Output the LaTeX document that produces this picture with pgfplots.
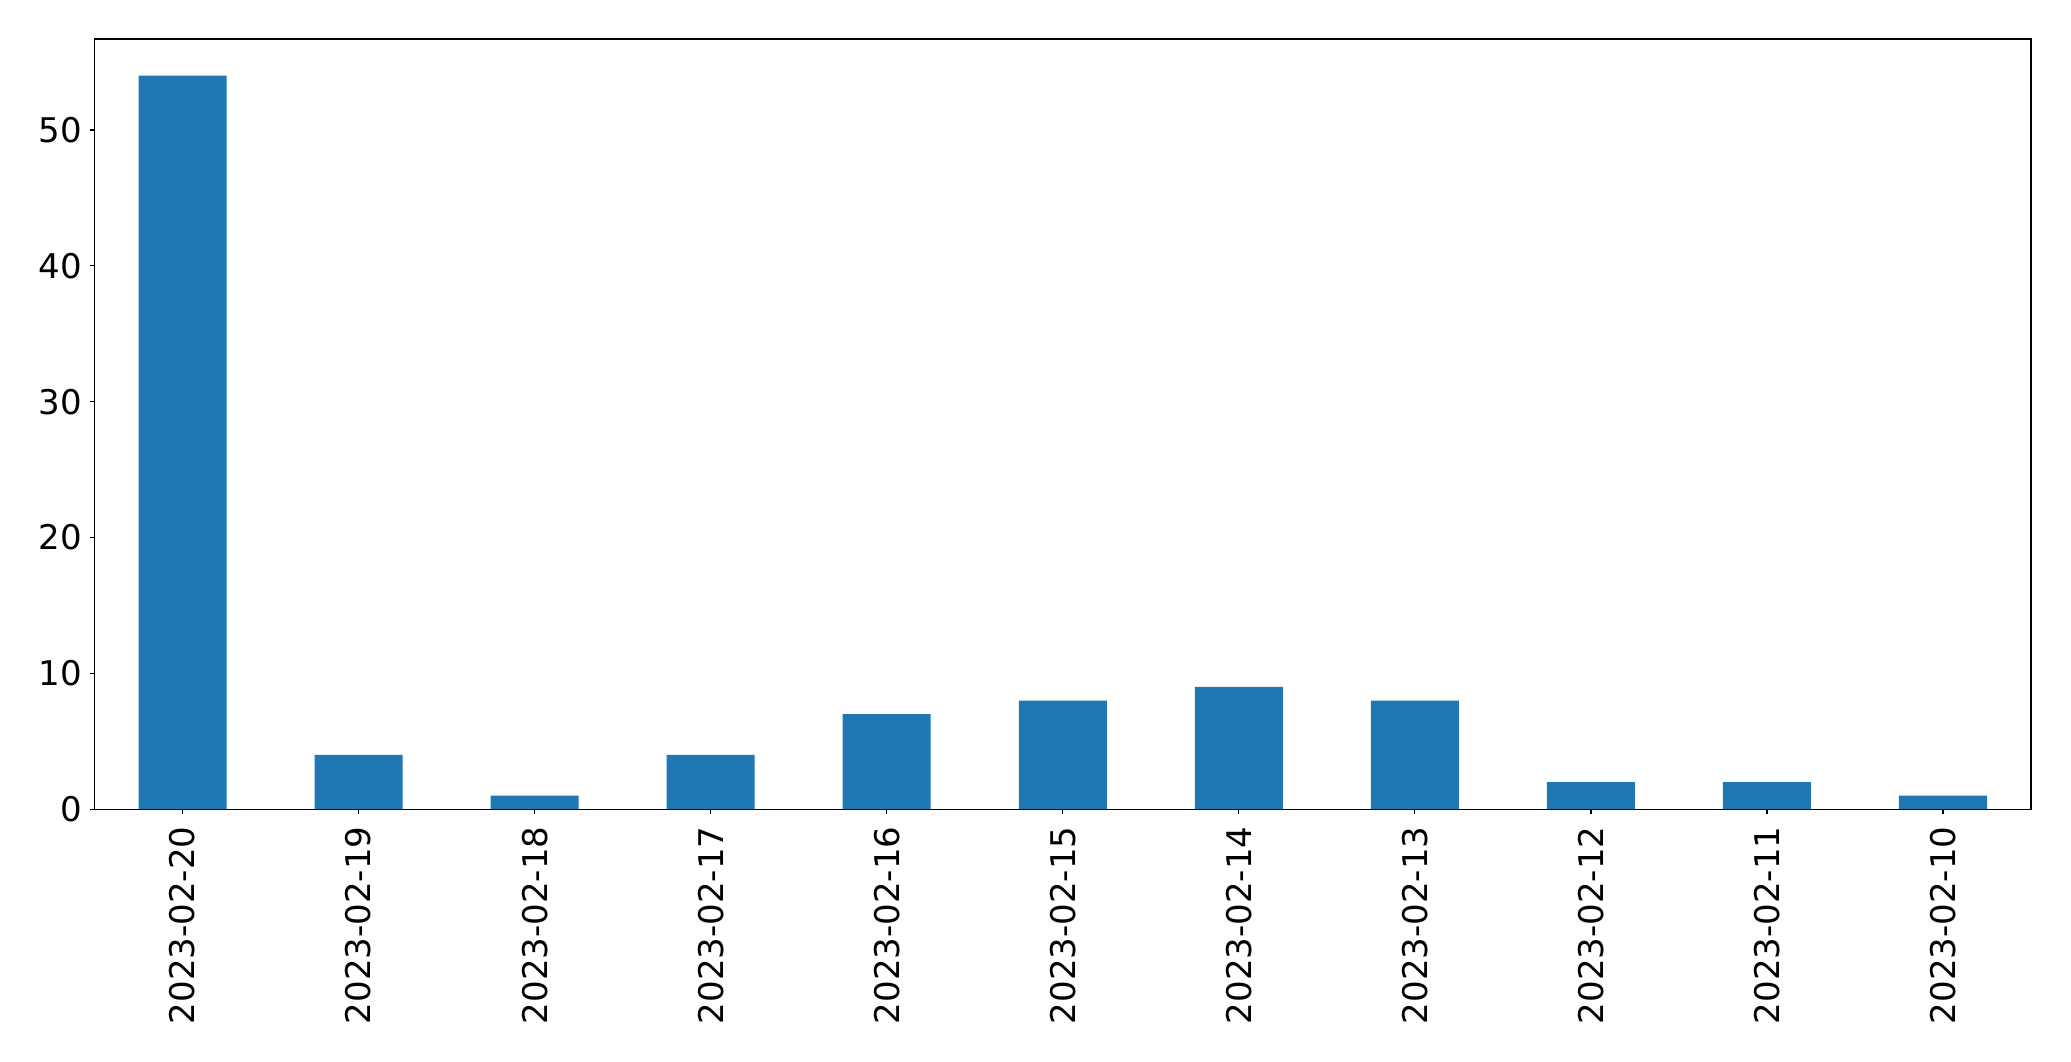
\documentclass[border=0pt]{standalone}
\usepackage{fontspec}
\setmainfont{DejaVu Sans}
\usepackage{pgfplots}
\pgfplotsset{compat=1.18}
\definecolor{mplblue}{HTML}{1F77B4}
\begin{document}
\begin{tikzpicture}
\begin{axis}[
  name=ax,
  scale only axis,
  width=968pt, height=385pt,
  xmin=-0.5, xmax=10.5,
  ymin=0, ymax=56.7,
  axis line style={line width=0.6pt},
  xtick={0,1,2,3,4,5,6,7,8,9,10},
  xticklabels={2023-02-20,2023-02-19,2023-02-18,2023-02-17,2023-02-16,2023-02-15,2023-02-14,2023-02-13,2023-02-12,2023-02-11,2023-02-10},
  ytick={0,10,20,30,40,50},
  tick align=outside,
  tick pos=left,
  major tick length=2.5pt,
  tick style={line width=0.6pt, black},
  /pgf/number format/assume math mode=true,
  tick label style={font=\fontsize{17}{20}\selectfont},
  xticklabel style={rotate=90, anchor=east, inner sep=0pt},
  yticklabel style={inner sep=0pt, xshift=-3.5pt},
  xticklabel shift=6pt,
]
\addplot[ybar, bar width=0.5, fill=mplblue, draw=none] coordinates {
(0,54) (1,4) (2,1) (3,4) (4,7) (5,8) (6,9) (7,8) (8,2) (9,2) (10,1)
};
\end{axis}
\path ([shift={(-47.25pt,-126pt)}]ax.south west) rectangle ([shift={(20pt,19.5pt)}]ax.north east);
\end{tikzpicture}
\end{document}
